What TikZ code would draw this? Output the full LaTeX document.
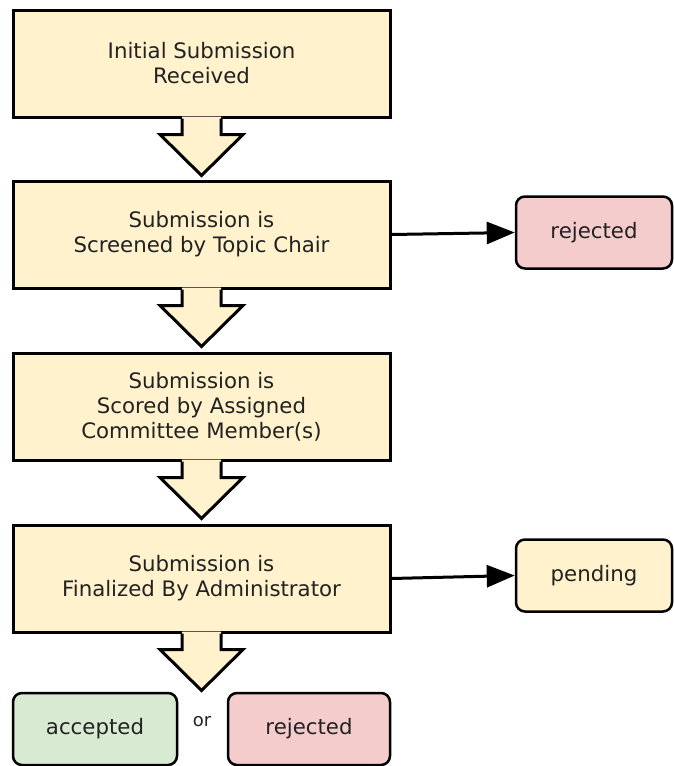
\documentclass[tikz,border=0pt]{standalone}
\usepackage{fontspec}
\setmainfont{DejaVu Sans}
\usetikzlibrary{arrows.meta}
\definecolor{ylw}{HTML}{FFF2CC}
\definecolor{pnk}{HTML}{F4CCCC}
\definecolor{grn}{HTML}{D9EAD3}
\definecolor{txt}{HTML}{222222}
\newcommand\blockarrow[1]{%
\begin{scope}[shift={(#1.south)}]
\fill[ylw] (-19.5,-2) -- (-19.5,16) -- (-41.5,16) -- (0,57) -- (41.5,16) -- (19.5,16) -- (19.5,-2) -- cycle;
\draw[line width=3pt, line join=miter] (-19.5,0) -- (-19.5,16) -- (-41.5,16) -- (0,57) -- (41.5,16) -- (19.5,16) -- (19.5,0);
\end{scope}}
\begin{document}
\begin{tikzpicture}[x=1pt,y=-1pt,
 stepbox/.style={draw=black, line width=3pt, fill=ylw, minimum width=377pt, minimum height=107pt, align=center, text=txt, font=\fontsize{21.3}{25}\selectfont, inner sep=0pt},
 state/.style={draw=black, line width=2.5pt, rounded corners=9pt, minimum height=72pt, text=txt, font=\fontsize{21.3}{25}\selectfont, inner sep=0pt},
 link/.style={line width=3pt, -{Triangle[length=28pt,width=22pt]}}
]
\useasboundingbox (0,0) rectangle (673,766);
\node[stepbox] (b1) at (201.5,63.5) {Initial Submission\\Received};
\node[stepbox] (b2) at (201.5,234.5) {Submission is\\Screened by Topic Chair};
\node[stepbox] (b3) at (201.5,406.5) {Submission is\\Scored by Assigned\\Committee Member(s)};
\node[stepbox] (b4) at (201.5,578.5) {Submission is\\Finalized By Administrator};
\blockarrow{b1}
\blockarrow{b2}
\blockarrow{b3}
\blockarrow{b4}
\node[state, fill=pnk, minimum width=156pt] (r1) at (594,232.5) {rejected};
\node[state, fill=ylw, minimum width=156pt] (p1) at (594,575.5) {pending};
\node[state, fill=grn, minimum width=164pt] (acc) at (95,729) {accepted};
\node[state, fill=pnk, minimum width=162pt] (r2) at (309,729) {rejected};
\node[text=txt, font=\fontsize{18}{20}\selectfont] (or) at (202,722) {or};
\draw[link] (b2.east) -- (r1.west);
\draw[link] (b4.east) -- (p1.west);
\end{tikzpicture}
\end{document}
